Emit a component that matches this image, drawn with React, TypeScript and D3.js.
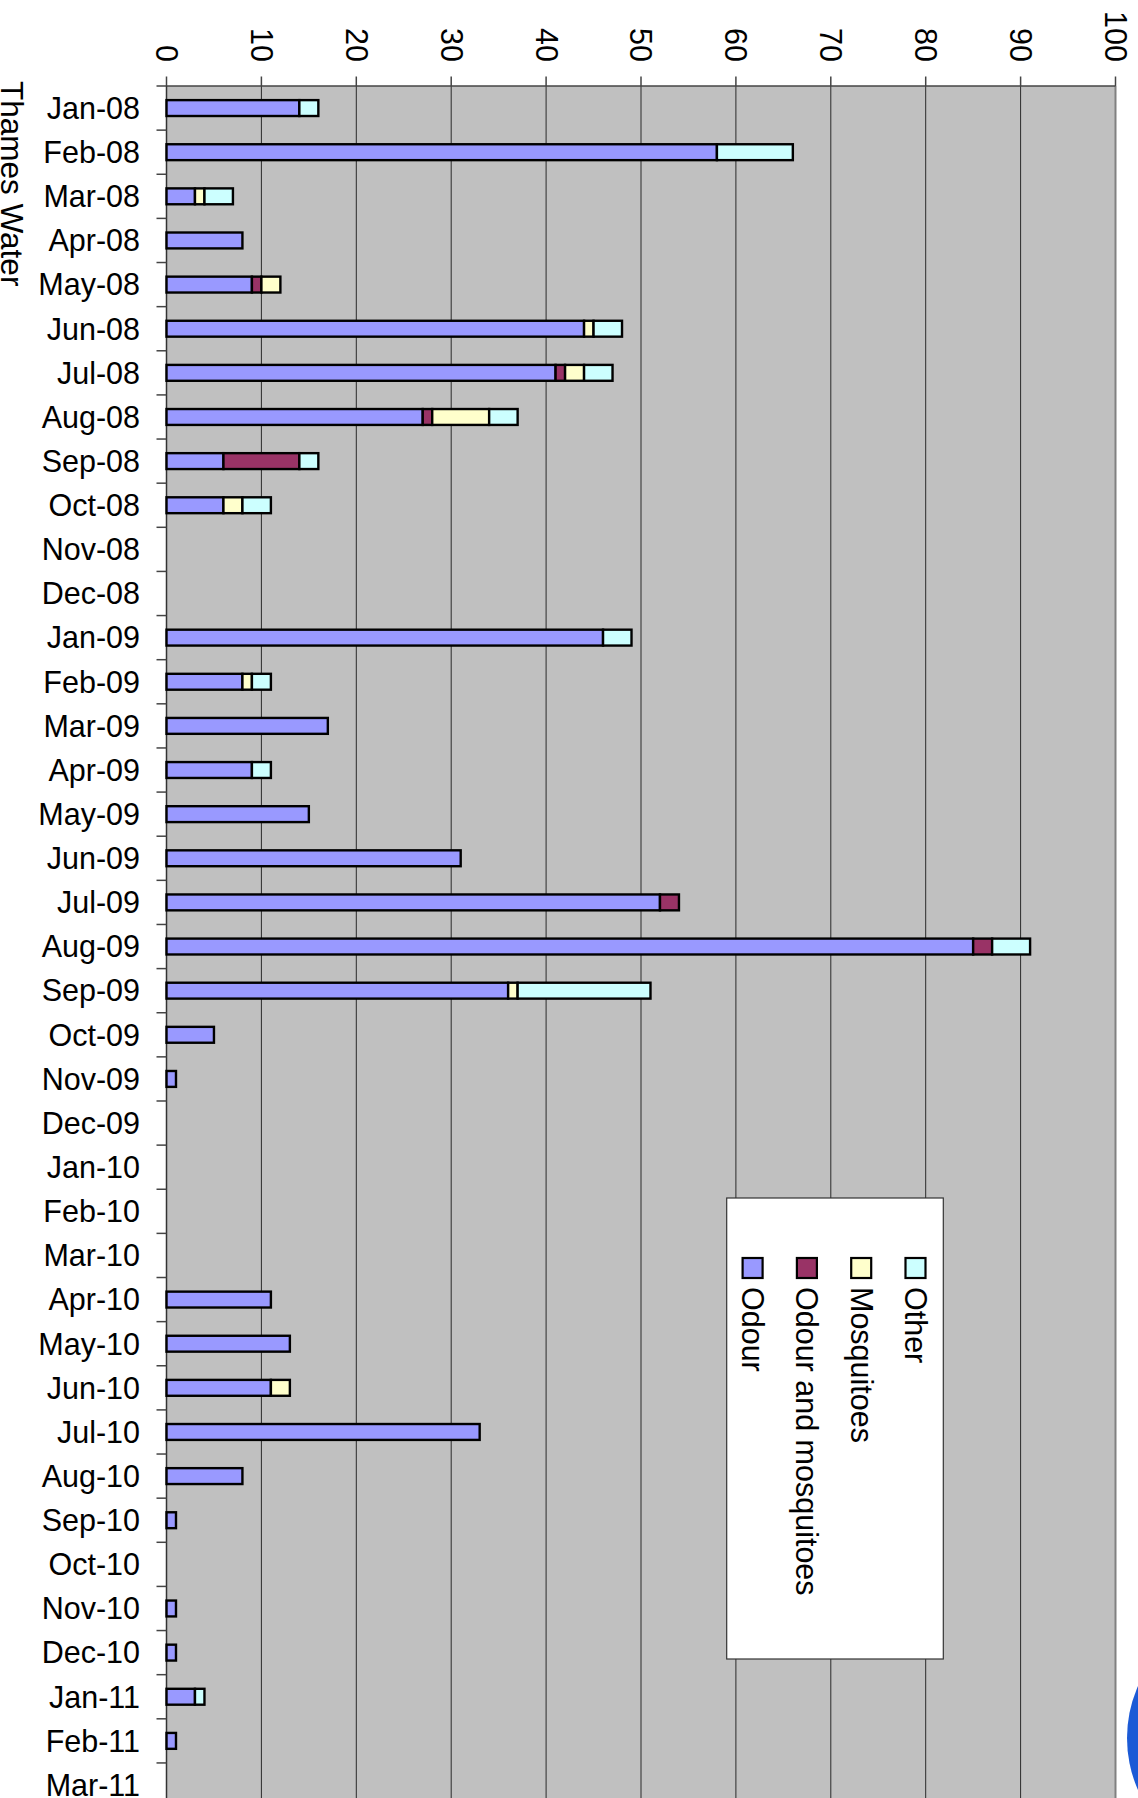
import React from "react";
import * as d3 from "d3";

const months = [
  "Jan-08","Feb-08","Mar-08","Apr-08","May-08","Jun-08","Jul-08","Aug-08","Sep-08","Oct-08","Nov-08","Dec-08",
  "Jan-09","Feb-09","Mar-09","Apr-09","May-09","Jun-09","Jul-09","Aug-09","Sep-09","Oct-09","Nov-09","Dec-09",
  "Jan-10","Feb-10","Mar-10","Apr-10","May-10","Jun-10","Jul-10","Aug-10","Sep-10","Oct-10","Nov-10","Dec-10",
  "Jan-11","Feb-11","Mar-11",
];

const odour = [14,58,3,8,9,44,41,27,6,6,0,0, 46,8,17,9,15,31,52,85,36,5,1,0, 0,0,0,11,13,11,33,8,1,0,1,1, 3,1,0];
const odourAndMosquitoes = [0,0,0,0,1,0,1,1,8,0,0,0, 0,0,0,0,0,0,2,2,0,0,0,0, 0,0,0,0,0,0,0,0,0,0,0,0, 0,0,0];
const mosquitoes = [0,0,1,0,2,1,2,6,0,2,0,0, 0,1,0,0,0,0,0,0,1,0,0,0, 0,0,0,0,0,2,0,0,0,0,0,0, 0,0,0];
const other = [2,8,3,0,0,3,3,3,2,3,0,0, 3,2,0,2,0,0,0,4,14,0,0,0, 0,0,0,0,0,0,0,0,0,0,0,0, 1,0,0];

const seriesKeys = ["Odour", "Odour and mosquitoes", "Mosquitoes", "Other"];
const seriesColors = ["#9999FF", "#993366", "#FFFFCC", "#CCFFFF"];
const legendOrder = ["Other", "Mosquitoes", "Odour and mosquitoes", "Odour"];
const valueTicks = [0, 10, 20, 30, 40, 50, 60, 70, 80, 90, 100];
const title = "Thames Water";

const FONT = "'Liberation Sans', Arial, Helvetica, sans-serif";

export default function App() {
  const W = 1138, H = 1798;
  const x0 = 166.5, x1 = 1115.5, top = 86, step = 44.13;
  const x = d3.scaleLinear().domain([0, 100]).range([x0, x1]);
  const y = d3.scaleBand<string>().domain(months).range([top, top + step * months.length]).padding(0);
  const bw = y.bandwidth();
  const barH = bw * 0.36;
  const bottom = H + 20;

  const table = months.map((m, i) => ({
    month: m,
    "Odour": odour[i],
    "Odour and mosquitoes": odourAndMosquitoes[i],
    "Mosquitoes": mosquitoes[i],
    "Other": other[i],
  }));
  const stacked = d3.stack<any>().keys(seriesKeys)(table);
  const color = d3.scaleOrdinal<string, string>().domain(seriesKeys).range(seriesColors);

  const legendX = d3.scalePoint<string>().domain(legendOrder).range([915.5, 752.6]);

  return (
    <svg width={W} height={H} style={{ position: "absolute", left: 0, top: 0, background: "#fff" }} fontFamily={FONT}>
      {/* plot area */}
      <rect x={x0} y={top} width={x1 - x0} height={bottom - top} fill="#C0C0C0" />
      {/* gridlines */}
      {valueTicks.slice(1, -1).map((t) => (
        <line key={"g" + t} x1={x(t)} x2={x(t)} y1={top} y2={bottom} stroke="#2a2a2a" strokeWidth={1} />
      ))}
      {/* right border */}
      <line x1={x1} x2={x1} y1={top} y2={bottom} stroke="#808080" strokeWidth={2} />
      {/* top axis */}
      <line x1={x0} x2={x1} y1={top} y2={top} stroke="#444" strokeWidth={1.5} />
      {valueTicks.map((t) => (
        <g key={"t" + t}>
          <line x1={x(t)} x2={x(t)} y1={top - 9.5} y2={top} stroke="#444" strokeWidth={1.5} />
          <text transform={`translate(${x(t) - 10.6},62) rotate(90)`} textAnchor="end" fontSize={30.5} fill="#000">
            {t}
          </text>
        </g>
      ))}
      {/* left axis */}
      <line x1={x0} x2={x0} y1={top} y2={bottom} stroke="#333" strokeWidth={1.5} />
      {months.map((m) => (
        <g key={"c" + m}>
          <line x1={x0 - 10} x2={x0} y1={y(m)!} y2={y(m)!} stroke="#444" strokeWidth={1.5} />
          <text x={140} y={y(m)! + bw / 2 + 10.8} textAnchor="end" fontSize={30.5} fill="#000">
            {m}
          </text>
        </g>
      ))}
      {/* bars */}
      {stacked.map((s) => (
        <g key={s.key}>
          {s.map((d, i) =>
            d[1] - d[0] > 0 ? (
              <rect
                key={i}
                x={x(d[0])}
                y={y(months[i])! + (bw - barH) / 2}
                width={x(d[1]) - x(d[0])}
                height={barH}
                fill={color(s.key)}
                stroke="#000"
                strokeWidth={2.4}
              />
            ) : null
          )}
        </g>
      ))}
      {/* legend */}
      <rect x={726.7} y={1198} width={216.6} height={461} fill="#fff" stroke="#333" strokeWidth={1.2} />
      {legendOrder.map((k) => (
        <g key={"l" + k}>
          <rect x={legendX(k)! - 10} y={1258} width={20} height={20} fill={color(k)} stroke="#000" strokeWidth={2.2} />
          <text transform={`translate(${legendX(k)! - 10.6},1287) rotate(90)`} textAnchor="start" fontSize={30.5} fill="#000">
            {k}
          </text>
        </g>
      ))}
      {/* title */}
      <text transform="translate(0.5,81) rotate(90)" textAnchor="start" fontSize={31.5} fill="#000">
        {title}
      </text>
      {/* logo fragment */}
      <circle cx={1255} cy={1738} r={128} fill="#1B5AD6" />
    </svg>
  );
}
